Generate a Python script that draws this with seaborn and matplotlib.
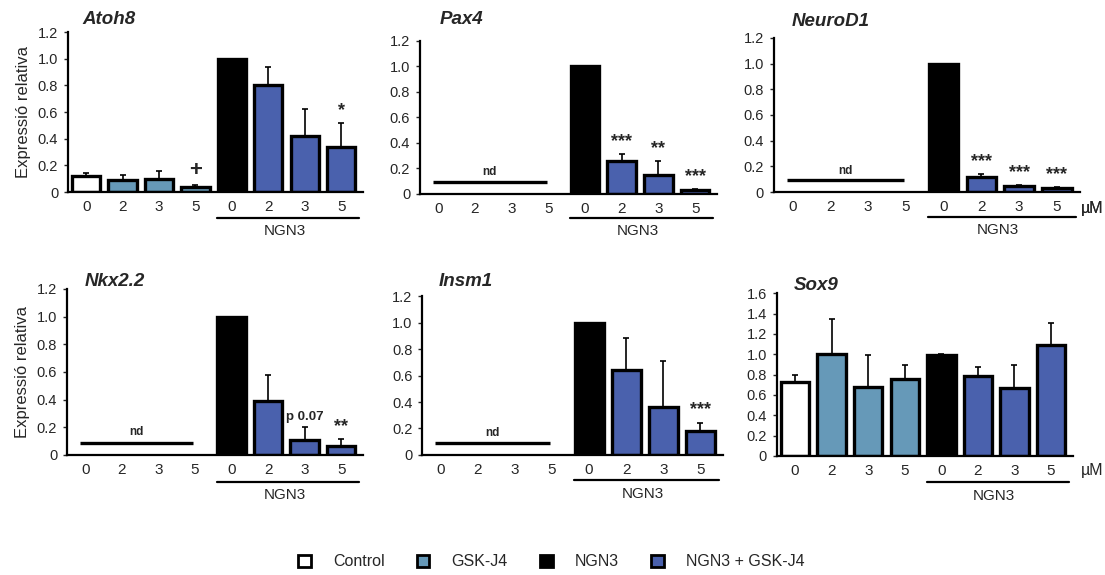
import numpy as np
import pandas as pd
import matplotlib
matplotlib.use("Agg")
import matplotlib.pyplot as plt
import seaborn as sns
from matplotlib.patches import Patch

sns.set_style("white")
plt.rcParams['font.family'] = ['Liberation Sans', 'DejaVu Sans']

# ---- data ----
conc_labels = ['0', '2', '3', '5', '0', '2', '3', '5']
groups = ['Control', 'GSK-J4', 'GSK-J4', 'GSK-J4', 'NGN3', 'NGN3 + GSK-J4', 'NGN3 + GSK-J4', 'NGN3 + GSK-J4']
nan = np.nan

genes = ['Atoh8', 'Pax4', 'NeuroD1', 'Nkx2.2', 'Insm1', 'Sox9']

atoh8_mean = [0.12, 0.09, 0.10, 0.04, 1.00, 0.80, 0.42, 0.34]
atoh8_err = [0.02, 0.035, 0.06, 0.01, nan, 0.14, 0.20, 0.18]
atoh8_marks = {3: '+', 7: '*'}

pax4_mean = [nan, nan, nan, nan, 1.00, 0.26, 0.145, 0.03]
pax4_err = [nan, nan, nan, nan, nan, 0.055, 0.11, 0.01]
pax4_marks = {5: '***', 6: '**', 7: '***'}

neurod1_mean = [nan, nan, nan, nan, 1.00, 0.12, 0.05, 0.03]
neurod1_err = [nan, nan, nan, nan, nan, 0.02, 0.005, 0.01]
neurod1_marks = {5: '***', 6: '***', 7: '***'}

nkx22_mean = [nan, nan, nan, nan, 1.00, 0.39, 0.106, 0.067]
nkx22_err = [nan, nan, nan, nan, nan, 0.185, 0.095, 0.046]
nkx22_marks = {6: 'p 0.07', 7: '**'}

insm1_mean = [nan, nan, nan, nan, 1.00, 0.645, 0.36, 0.18]
insm1_err = [nan, nan, nan, nan, nan, 0.235, 0.35, 0.065]
insm1_marks = {7: '***'}

sox9_mean = [0.73, 1.00, 0.675, 0.757, 0.993, 0.786, 0.665, 1.09]
sox9_err = [0.07, 0.35, 0.315, 0.14, 0.007, 0.085, 0.23, 0.215]
sox9_marks = {}

means = [atoh8_mean, pax4_mean, neurod1_mean, nkx22_mean, insm1_mean, sox9_mean]
errs = [atoh8_err, pax4_err, neurod1_err, nkx22_err, insm1_err, sox9_err]
marks = [atoh8_marks, pax4_marks, neurod1_marks, nkx22_marks, insm1_marks, sox9_marks]
not_detected = [False, True, True, True, True, False]
nd_level = 0.09

colors = {'Control': '#FFFFFF', 'GSK-J4': '#6699B8', 'NGN3': '#000000', 'NGN3 + GSK-J4': '#4A61AD'}

# ---- layout ----
fig = plt.figure(figsize=(11.05, 5.75), dpi=100)
boxes = [
    (0.0615, 0.666, 0.267, 0.278),
    (0.380, 0.663, 0.269, 0.266),
    (0.700, 0.666, 0.277, 0.268),
    (0.0606, 0.2087, 0.268, 0.289),
    (0.382, 0.2087, 0.272, 0.2765),
    (0.703, 0.207, 0.268, 0.283),
]
title_xy = [(82, 20), (440, 20), (792, 21), (85, 282), (439, 282), (794, 285)]
um_y = [208, None, 208, None, None, 470]

for i, gene in enumerate(genes):
    ax = fig.add_axes(boxes[i])
    df = pd.DataFrame({'pos': range(8), 'value': means[i], 'err': errs[i], 'group': groups})
    sns.barplot(data=df, x='pos', y='value', hue='group', palette=colors, dodge=False,
                order=list(range(8)), width=0.78, edgecolor='black', linewidth=2.4,
                saturation=1, legend=False, ax=ax)
    ok = df['err'].notna() & df['value'].notna()
    ax.errorbar(df['pos'][ok], df['value'][ok],
                yerr=[np.zeros(ok.sum()), df['err'][ok]],
                fmt='none', ecolor='black', elinewidth=1.2, capsize=2.5, capthick=1.2, zorder=1)

    top = 1.6 if gene == 'Sox9' else 1.2
    ax.set_ylim(0, top)
    ax.set_xlim(-0.5, 7.6)
    yt = np.round(np.arange(0, top + 0.01, 0.2), 1)
    ax.set_yticks(yt)
    ax.set_yticklabels(['0'] + [f'{v:.1f}' for v in yt[1:]])
    ax.set_xticks(range(8))
    ax.set_xticklabels(conc_labels)
    ax.tick_params(axis='x', length=0, pad=6, labelsize=11)
    ax.tick_params(axis='y', length=3, width=1, direction='out', pad=4, labelsize=10.5, left=True)
    ax.set_xlabel('')
    ax.set_ylabel('Expressió relativa' if i in (0, 3) else '', fontsize=12, labelpad=5)
    for s in ['top', 'right']:
        ax.spines[s].set_visible(False)
    for s in ['left', 'bottom']:
        ax.spines[s].set_linewidth(1.6)
        ax.spines[s].set_color('black')

    tx, ty = title_xy[i]
    fig.text(tx / 1105, 1 - ty / 575, gene, fontsize=13.5, fontweight='bold', fontstyle='italic',
             ha='left', va='center')

    for k, txt in marks[i].items():
        y = df['value'][k] + (0 if np.isnan(df['err'][k]) else df['err'][k])
        fs = 16 if txt == '+' else (9.5 if txt.startswith('p') else 13)
        ax.text(k, y + 0.03 * top / 1.2, txt, ha='center', va='bottom', fontsize=fs, fontweight='bold')

    if not_detected[i]:
        ax.plot([-0.15, 2.95], [nd_level, nd_level], color='black', lw=2.4, solid_capstyle='butt')
        ax.text(1.4, nd_level + 0.03, 'nd', ha='center', va='bottom', fontsize=8.5, fontweight='bold')

    trans = ax.get_xaxis_transform()
    ax.plot([3.6, 7.5], [-0.16, -0.16], color='black', lw=1.6, transform=trans, clip_on=False)
    ax.text(5.45, -0.2, 'NGN3', ha='center', va='top', fontsize=11, transform=trans)
    if um_y[i] is not None:
        fig.text(1103 / 1105, 1 - um_y[i] / 575, 'µM', ha='right', va='center', fontsize=11.5)

handles = [Patch(facecolor=colors[g], edgecolor='black', linewidth=2) for g in colors]
fig.legend(handles, list(colors.keys()), loc='center', bbox_to_anchor=(0.499, 1 - 562 / 575),
           ncol=4, frameon=False, handlelength=0.8, handleheight=0.8, columnspacing=2.0,
           handletextpad=1.4, fontsize=11.5)

fig.savefig('out.png', dpi=100)
